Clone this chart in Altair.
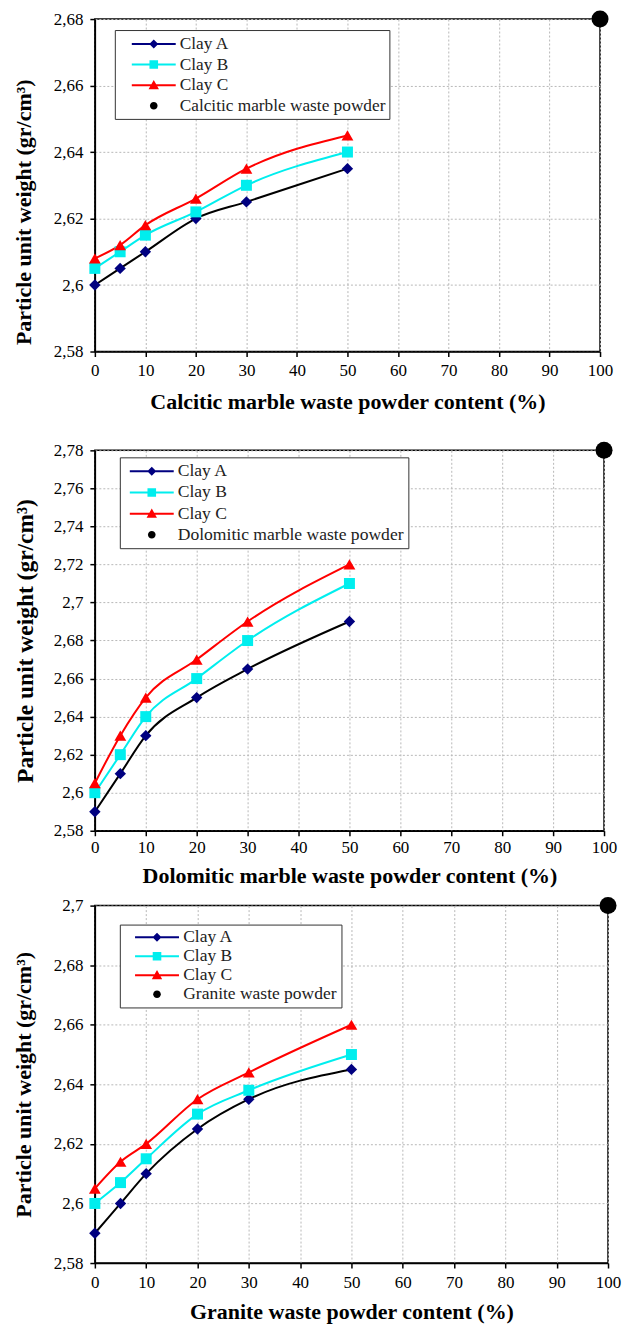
import altair as alt
import pandas as pd

# ---------------- data ----------------
contents = [0, 5, 10, 20, 30, 50]
clay_names = ["Clay A", "Clay B", "Clay C"]
powder_content = 100
x_ticks = [0, 10, 20, 30, 40, 50, 60, 70, 80, 90, 100]

calcitic_a = [2.600, 2.605, 2.610, 2.620, 2.625, 2.635]
calcitic_b = [2.605, 2.610, 2.615, 2.622, 2.630, 2.640]
calcitic_c = [2.608, 2.612, 2.618, 2.626, 2.635, 2.645]
calcitic_powder = 2.68
calcitic_ticks = [2.58, 2.60, 2.62, 2.64, 2.66, 2.68]

dolomitic_a = [2.590, 2.610, 2.630, 2.650, 2.665, 2.690]
dolomitic_b = [2.600, 2.620, 2.640, 2.660, 2.680, 2.710]
dolomitic_c = [2.605, 2.630, 2.650, 2.670, 2.690, 2.720]
dolomitic_powder = 2.78
dolomitic_ticks = [2.58, 2.60, 2.62, 2.64, 2.66, 2.68, 2.70, 2.72, 2.74, 2.76, 2.78]

granite_a = [2.590, 2.600, 2.610, 2.625, 2.635, 2.645]
granite_b = [2.600, 2.607, 2.615, 2.630, 2.638, 2.650]
granite_c = [2.605, 2.614, 2.620, 2.635, 2.644, 2.660]
granite_powder = 2.70
granite_ticks = [2.58, 2.60, 2.62, 2.64, 2.66, 2.68, 2.70]

# ---------------- styles ----------------
FONT = "Liberation Serif"
line_colors = ["#000000", "#00eeee", "#ff0000"]
marker_colors = ["#000080", "#00eeee", "#ff0000"]
marker_shapes = ["diamond", "square", "triangle-up"]
marker_sizes = [130, 121, 140]
legend_colors = ["#000080", "#00eeee", "#ff0000", "#000000"]
NBSP = "\u00a0"


def legend_paths(box):
    """Legend glyphs (line + marker) in Vega's custom-symbol unit space."""
    u = box / 2.0
    def f(px):
        return f"{px / u:.3f}"
    line = f"M-{f(22)},-{f(1)}H{f(22)}V{f(1)}H-{f(22)}Z"
    diamond = f"M0,-{f(4.5)}L{f(4.5)},0L0,{f(4.5)}L-{f(4.5)},0Z"
    square = f"M-{f(4.3)},-{f(4.3)}H{f(4.3)}V{f(4.3)}H-{f(4.3)}Z"
    tri = f"M0,-{f(5.2)}L{f(5.2)},{f(4)}H-{f(5.2)}Z"
    r = f(3.8)
    circle = f"M-{r},0A{r},{r} 0 1,1 {r},0A{r},{r} 0 1,1 -{r},0Z"
    return [line + " " + diamond, line + " " + square, line + " " + tri, circle]


def panel(series_vals, powder_name, powder_val, yticks, x_title, y_title,
          width, height, lg, ax):
    rows = []
    for name, vals in zip(clay_names, series_vals):
        for xv, yv in zip(contents, vals):
            rows.append({"x": xv, "y": yv, "series": name})
    rows.append({"x": powder_content, "y": powder_val, "series": powder_name})
    df = pd.DataFrame(rows)
    base = alt.Chart(df)

    y_axis_kwargs = dict(
        values=yticks, title=y_title,
        labelExpr="replace(format(datum.value, '.2~f'), '.', ',')",
        labelFontSize=17, titleFontSize=ax["ytfs"], titleFontWeight="bold",
        tickSize=5, tickWidth=1.5, labelPadding=7, titlePadding=ax["ytp"],
        domainWidth=1.5, grid=True,
    )
    if "titleY" in ax:
        y_axis_kwargs["titleY"] = ax["titleY"]
    X = alt.X("x:Q", scale=alt.Scale(domain=[0, 100], nice=False, zero=False),
              axis=alt.Axis(values=x_ticks, title=x_title, labelFontSize=17,
                            titleFontSize=22, titleFontWeight="bold", tickSize=5,
                            tickWidth=1.5, labelPadding=ax["xlp"], titlePadding=ax["xtp"],
                            domainWidth=1.5, grid=True, labelFlush=False))
    Y = alt.Y("y:Q", scale=alt.Scale(domain=[yticks[0], yticks[-1]], nice=False, zero=False),
              axis=alt.Axis(**y_axis_kwargs))

    layers = []
    for name, col in zip(clay_names, line_colors):
        layers.append(
            base.transform_filter(alt.datum.series == name)
            .mark_line(color=col, strokeWidth=2, interpolate="monotone")
            .encode(x=X, y=Y)
        )
    for name, shp, col, sz in zip(clay_names, marker_shapes, marker_colors, marker_sizes):
        layers.append(
            base.transform_filter(alt.datum.series == name)
            .mark_point(shape=shp, filled=True, color=col, size=sz, opacity=1)
            .encode(x=X, y=Y)
        )
    layers.append(
        base.transform_filter(alt.datum.series == powder_name)
        .mark_point(shape="circle", filled=True, color="black", size=290, opacity=1, clip=False)
        .encode(x=X, y=Y)
    )

    names = clay_names + [powder_name]
    box = lg["box"]
    # symbol centre sits at symbolOffset + box/2; the drawn line starts 22px left of it
    sym_offset = lg["line_start"] + 22 - box / 2.0
    label_offset = (22 + 4) - box / 2.0
    legend = alt.Legend(
        title=None, orient="none", legendX=lg["x"], legendY=lg["y"],
        strokeColor="#333333", fillColor="white", padding=4,
        symbolSize=box * box, symbolOffset=sym_offset, symbolStrokeWidth=0,
        labelFont=FONT, labelFontSize=lg["fs"], labelColor="#222222",
        labelOffset=label_offset, rowPadding=lg["rp"], labelLimit=500,
        labelExpr="datum.label + '" + NBSP * lg["nb"] + "'",
    )
    layers.append(
        base.transform_filter("false")
        .mark_point(filled=True, opacity=1)
        .encode(
            x=X, y=Y,
            color=alt.Color("series:N", scale=alt.Scale(domain=names, range=legend_colors), legend=legend),
            shape=alt.Shape("series:N", scale=alt.Scale(domain=names, range=legend_paths(box)), legend=legend),
        )
    )
    return alt.layer(*layers).properties(width=width, height=height)


p1 = panel([calcitic_a, calcitic_b, calcitic_c], "Calcitic marble waste powder", calcitic_powder,
           calcitic_ticks, "Calcitic marble waste powder content (%)",
           "Particle unit weight  (gr/cm³)", 506, 333,
           {"x": 20, "y": 11, "line_start": 13, "box": 20, "fs": 17.3, "rp": 1.6, "nb": 6},
           {"ytfs": 22, "ytp": 18, "xlp": 6, "xtp": 13, "titleY": 193})
p2 = panel([dolomitic_a, dolomitic_b, dolomitic_c], "Dolomitic marble waste powder", dolomitic_powder,
           dolomitic_ticks, "Dolomitic marble waste powder content  (%)",
           "Particle unit weight (gr/cm³)", 510, 381,
           {"x": 25, "y": 7, "line_start": 6, "box": 20, "fs": 17.6, "rp": 2.2, "nb": 6},
           {"ytfs": 23.5, "ytp": 16, "xlp": 4, "xtp": 10})
p3 = panel([granite_a, granite_b, granite_c], "Granite waste powder", granite_powder,
           granite_ticks, "Granite waste powder content  (%)",
           "Particle unit weight  (gr/cm³)", 514, 358,
           {"x": 25, "y": 19, "line_start": 11, "box": 17, "fs": 17.5, "rp": 0, "nb": 6},
           {"ytfs": 22, "ytp": 18, "xlp": 7, "xtp": 11})

inner = alt.vconcat(p1, p2, spacing=27).resolve_scale(color="independent", shape="independent")
chart = (
    alt.vconcat(inner, p3, spacing=8)
    .resolve_scale(color="independent", shape="independent")
    .properties(padding={"left": 3, "top": 0, "right": 0, "bottom": 0})
    .configure(font=FONT)
    .configure_axis(labelFont=FONT, titleFont=FONT, labelColor="black", titleColor="black",
                    domainColor="black", tickColor="black", gridColor="#b8b8b8",
                    gridDash=[2, 2], gridWidth=1)
    .configure_view(stroke="black", strokeWidth=1.5)
)

chart.save("out.html", embed_options={"renderer": "svg", "actions": False})
